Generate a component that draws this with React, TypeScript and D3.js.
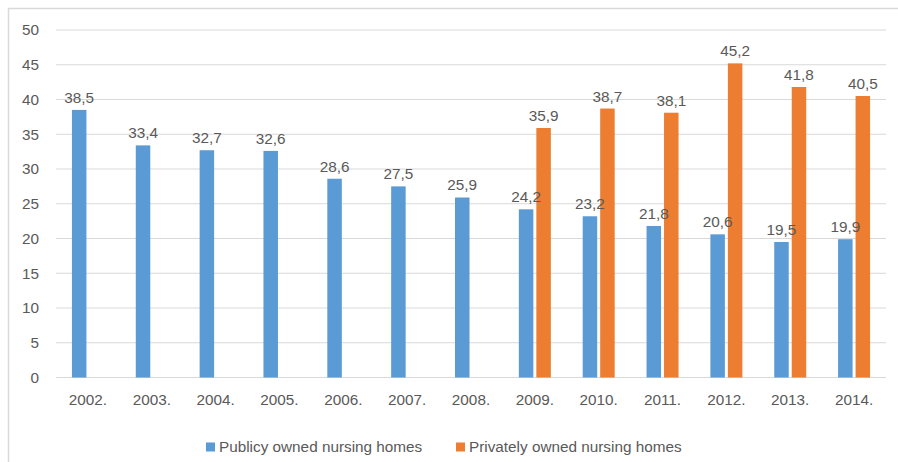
import React from "react";
import * as d3 from "d3";

const categories = ["2002.", "2003.", "2004.", "2005.", "2006.", "2007.", "2008.", "2009.", "2010.", "2011.", "2012.", "2013.", "2014."];
const publicValues: (number | null)[] = [38.5, 33.4, 32.7, 32.6, 28.6, 27.5, 25.9, 24.2, 23.2, 21.8, 20.6, 19.5, 19.9];
const privateValues: (number | null)[] = [null, null, null, null, null, null, null, 35.9, 38.7, 38.1, 45.2, 41.8, 40.5];
const seriesNames = ["Publicy owned nursing homes", "Privately owned nursing homes"];
const yTicks = [0, 5, 10, 15, 20, 25, 30, 35, 40, 45, 50];

const W = 898;
const H = 462;
const left = 56;
const right = 886;
const top = 30;
const bottom = 377.5;
const colors = ["#5B9BD5", "#ED7D31"];
const textColor = "#595959";
const font = "'Liberation Sans', Arial, sans-serif";

export default function App() {
  const x = d3.scaleBand<string>().domain(categories).range([left, right]).paddingInner(0).paddingOuter(0);
  const y = d3.scaleLinear().domain([0, 50]).range([bottom, top]);
  const bw = x.bandwidth();
  const barW = bw * 0.227;
  const gap = bw * 0.047;
  const fmt = (v: number) => v.toFixed(1).replace(".", ",");
  const series = [publicValues, privateValues];

  const bars: { key: string; x: number; v: number; s: number }[] = [];
  categories.forEach((c, i) => {
    const cx = (x(c) as number) + bw / 2;
    series.forEach((vals, s) => {
      const v = vals[i];
      if (v == null) return;
      const bx = s === 0 ? cx - gap / 2 - barW : cx + gap / 2;
      bars.push({ key: c + s, x: bx, v, s });
    });
  });

  return (
    <svg width={W} height={H} style={{ position: "absolute", left: 0, top: 0 }} fontFamily={font}>
      <rect x={0} y={0} width={W} height={H} fill="#fff" />
      <rect x={8.5} y={8.5} width={W + 10} height={H + 10} fill="none" stroke="#d9d9d9" strokeWidth={1.5} />
      {yTicks.map((t) => (
        <g key={t}>
          <line x1={left} x2={right} y1={y(t)} y2={y(t)} stroke="#d9d9d9" strokeWidth={1} />
          <text x={39} y={y(t)} dy="0.35em" textAnchor="end" fontSize={15.3} fill={textColor}>{t}</text>
        </g>
      ))}
      {bars.map((b) => (
        <rect key={b.key} x={b.x} y={y(b.v)} width={barW} height={y(0) - y(b.v)} fill={colors[b.s]} />
      ))}
      {bars.map((b) => (
        <text key={"l" + b.key} x={b.x + barW / 2} y={y(b.v) - 7} textAnchor="middle" fontSize={15.3} fill={textColor}>{fmt(b.v)}</text>
      ))}
      {categories.map((c) => (
        <text key={c} x={(x(c) as number) + bw / 2} y={405} textAnchor="middle" fontSize={15.3} fill={textColor}>{c}</text>
      ))}
      {seriesNames.map((n, s) => {
        const lx = s === 0 ? 206 : 456;
        return (
          <g key={n}>
            <rect x={lx} y={442.5} width={9} height={9} fill={colors[s]} />
            <text x={lx + 13} y={447} dy="0.35em" fontSize={15.3} fill={textColor}>{n}</text>
          </g>
        );
      })}
    </svg>
  );
}
